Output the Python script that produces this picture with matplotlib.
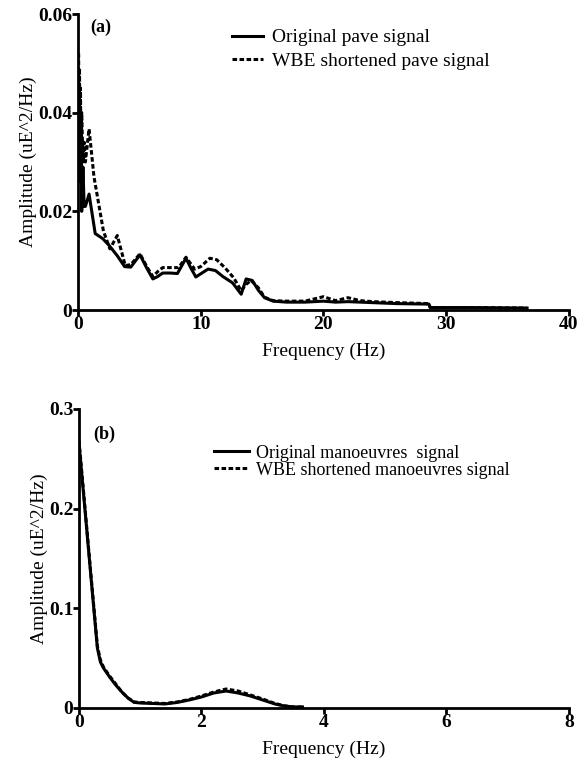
import numpy as np
import matplotlib
matplotlib.use('Agg')
import matplotlib.pyplot as plt

matplotlib.rcParams['font.family'] = 'Liberation Serif'

# (a) pave signal spectrum
pave_f_orig = [0.05, 0.1, 0.15, 0.2, 0.25, 0.3, 0.4, 0.5, 0.6, 0.9, 1.4, 2.0, 2.5, 3.2, 3.8, 4.3,
               5.05, 5.6, 6.1, 6.5, 6.9, 7.5, 8.1, 8.8, 9.2, 9.6, 10.1, 10.6, 11.2, 11.8, 12.6,
               13.3, 13.7, 14.2, 14.7, 15.2, 15.9, 17, 18.5, 20, 21, 22, 24, 26, 28.6, 28.7,
               32, 36.6]
pave_a_orig = [0.045, 0.030, 0.041, 0.026, 0.034, 0.020, 0.029, 0.021, 0.021, 0.0235, 0.0155,
               0.0145, 0.0132, 0.011, 0.0088, 0.0087, 0.0112, 0.0085, 0.0063, 0.0068, 0.0075,
               0.0075, 0.0074, 0.0105, 0.0085, 0.0067, 0.0075, 0.0083, 0.008, 0.0068, 0.0055,
               0.0032, 0.0063, 0.006, 0.004, 0.0025, 0.0018, 0.0016, 0.0016, 0.0018, 0.0016,
               0.0017, 0.0015, 0.0013, 0.0012, 0.0005, 0.0005, 0.0004]
pave_f_wbe = [0.05, 0.08, 0.12, 0.16, 0.2, 0.25, 0.3, 0.4, 0.5, 0.6, 0.9, 1.3, 2.07, 2.6, 3.2,
              3.85, 4.3, 5.05, 5.6, 6.1, 6.5, 6.9, 7.5, 8.2, 8.8, 9.5, 10.0, 10.75, 11.3, 12.0,
              12.7, 13.3, 13.7, 14.1, 14.7, 15.2, 15.9, 17, 18.5, 20, 21, 22, 23, 24, 26, 28.6,
              28.7, 32, 36.6]
pave_a_wbe = [0.052, 0.035, 0.049, 0.031, 0.045, 0.028, 0.040, 0.030, 0.034, 0.030, 0.0367,
              0.027, 0.016, 0.0124, 0.0151, 0.009, 0.0092, 0.0114, 0.0088, 0.0068, 0.0078,
              0.0086, 0.0086, 0.0086, 0.0107, 0.0083, 0.0088, 0.0105, 0.0102, 0.0085, 0.0065,
              0.0039, 0.0052, 0.006, 0.0045, 0.0026, 0.0019, 0.0018, 0.0018, 0.0027, 0.0019,
              0.0025, 0.0019, 0.0017, 0.0015, 0.0013, 0.0005, 0.0005, 0.0004]

# (b) manoeuvres signal spectrum
man_f = [0.0, 0.1, 0.2, 0.3, 0.35, 0.4, 0.5, 0.6, 0.7, 0.8, 0.9, 1.0, 1.2, 1.4, 1.6, 1.8,
         2.0, 2.2, 2.4, 2.6, 2.8, 3.0, 3.2, 3.35, 3.5, 3.65]
man_a_orig = [0.265, 0.197, 0.128, 0.06, 0.046, 0.04, 0.031, 0.023, 0.016, 0.01, 0.0056,
              0.005, 0.0045, 0.004, 0.0055, 0.008, 0.011, 0.015, 0.017, 0.015, 0.012, 0.008,
              0.004, 0.002, 0.001, 0.001]
man_a_wbe = [0.268, 0.199, 0.13, 0.062, 0.048, 0.041, 0.032, 0.024, 0.016, 0.01, 0.006,
             0.0055, 0.005, 0.0045, 0.006, 0.0085, 0.012, 0.016, 0.019, 0.017, 0.013, 0.009,
             0.0045, 0.0022, 0.001, 0.001]

fig = plt.figure(figsize=(5.84, 7.61), dpi=100)
ax1 = fig.add_axes([0.1336, 0.5926, 0.8404, 0.389])
ax2 = fig.add_axes([0.1353, 0.0697, 0.8387, 0.393])

lw = 2.2
dash = (0, (1.5, 0.8))


def style_axes(ax):
    for s in ['top', 'right']:
        ax.spines[s].set_visible(False)
    for s in ['left', 'bottom']:
        ax.spines[s].set_linewidth(2.0)
    ax.tick_params(direction='out', length=4, width=2.0, labelsize=14, pad=0)
    for lab in ax.get_xticklabels() + ax.get_yticklabels():
        lab.set_fontweight('bold')
    ax.set_xlabel('Frequency (Hz)', fontsize=14, labelpad=7)
    ax.set_ylabel('Amplitude (uE^2/Hz)', fontsize=14, labelpad=1)


ax1.plot(pave_f_orig, pave_a_orig, color='black', lw=lw, label='Original pave signal')
ax1.plot(pave_f_wbe, pave_a_wbe, color='black', lw=lw, linestyle=dash,
         label='WBE shortened pave signal')
ax1.set_xlim(0, 40)
ax1.set_ylim(0, 0.06)
ax1.set_xticks([0, 10, 20, 30, 40])
ax1.set_yticks([0, 0.02, 0.04, 0.06])
ax1.set_yticklabels(['0', '0.02', '0.04', '0.06'])
style_axes(ax1)
ax1.text(0.025, 0.985, '(a)', transform=ax1.transAxes, fontsize=13, fontweight='bold',
         va='top')
ax1.legend(loc='upper left', bbox_to_anchor=(0.314, 0.95), frameon=False, fontsize=14,
           handlelength=1.6, handletextpad=0.45, labelspacing=0.3, borderpad=0,
           borderaxespad=0)

ax2.plot(man_f, man_a_orig, color='black', lw=lw, label='Original manoeuvres  signal')
ax2.plot(man_f, man_a_wbe, color='black', lw=lw, linestyle=dash,
         label='WBE shortened manoeuvres signal')
ax2.set_xlim(0, 8)
ax2.set_ylim(0, 0.3)
ax2.set_xticks([0, 2, 4, 6, 8])
ax2.set_yticks([0, 0.1, 0.2, 0.3])
ax2.set_yticklabels(['0', '0.1', '0.2', '0.3'])
style_axes(ax2)
ax2.text(0.03, 0.945, '(b)', transform=ax2.transAxes, fontsize=13, fontweight='bold',
         va='top')
ax2.legend(loc='upper left', bbox_to_anchor=(0.276, 0.88), frameon=False, fontsize=13,
           handlelength=1.9, handletextpad=0.4, labelspacing=0.0, borderpad=0,
           borderaxespad=0)

fig.savefig('out.png', dpi=100)
